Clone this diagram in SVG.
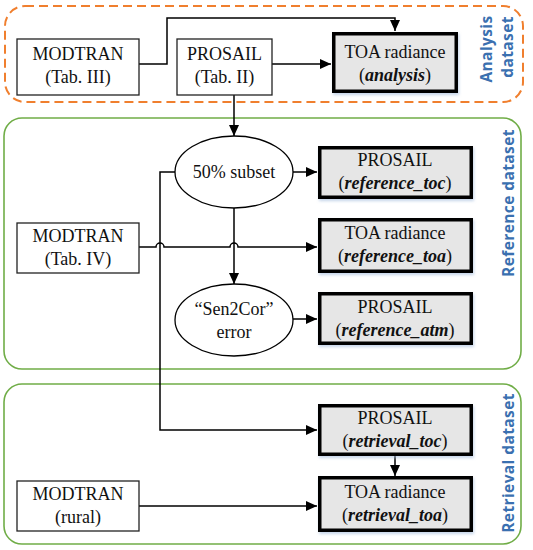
<svg xmlns="http://www.w3.org/2000/svg" width="533" height="550" viewBox="0 0 533 550">
<style>
.frame-o{fill:none;stroke:#F07F2E;stroke-width:2;stroke-dasharray:9 5}
.frame-g{fill:none;stroke:#70AD47;stroke-width:1.6}
.box{fill:#fff;stroke:#222;stroke-width:1.3}
.out{fill:#e6e6e6;stroke:#000;stroke-width:3.5;filter:url(#sh)}
.ell{fill:#fff;stroke:#000;stroke-width:1.3}
.t{font-size:18px;fill:#111;text-anchor:middle}
.i{font-style:italic;font-weight:bold}
.lab{font-weight:bold;font-size:15.5px;letter-spacing:0.4px;fill:#3A70B0;text-anchor:middle}
.c{fill:none;stroke:#000;stroke-width:1.5}
</style>
<defs>
<filter id="sh" x="-10%" y="-10%" width="125%" height="130%">
<feDropShadow dx="1" dy="2" stdDeviation="1.5" flood-color="#9fb9dc" flood-opacity="0.6"/>
</filter>
<marker id="ah" markerUnits="userSpaceOnUse" markerWidth="12" markerHeight="10" refX="11" refY="5" orient="auto">
<path d="M0,0 L11,5 L0,10 z" fill="#000"/>
</marker>
</defs>

<g id="frame-analysis" font-family="'Open Sans', 'Noto Sans', sans-serif">
<rect class="frame-o" x="5" y="6" width="518" height="96" rx="20"/>
<text class="lab" transform="translate(492,49) rotate(-90)">Analysis</text>
<text class="lab" transform="translate(513,47) rotate(-90)">dataset</text>
</g>
<g id="frame-reference" font-family="'Open Sans', 'Noto Sans', sans-serif">
<rect class="frame-g" x="4" y="118" width="517" height="251" rx="18"/>
<text class="lab" transform="translate(514,203) rotate(-90)">Reference dataset</text>
</g>
<g id="frame-retrieval" font-family="'Open Sans', 'Noto Sans', sans-serif">
<rect class="frame-g" x="4" y="384" width="517" height="160" rx="18"/>
<text class="lab" transform="translate(514,463) rotate(-90)">Retrieval dataset</text>
</g>

<g id="connectors">
<path class="c" d="M139,64 H167 V18 H395 V31" marker-end="url(#ah)"/>
<path class="c" d="M272,64 H331" marker-end="url(#ah)"/>
<path class="c" d="M234,95 V136" marker-end="url(#ah)"/>
<path class="c" d="M293,172 H317" marker-end="url(#ah)"/>
<path class="c" d="M234,208 V284" marker-end="url(#ah)"/>
<path class="c" d="M139,247 H156 A4,4 0 0 1 164,247 H230 A4,4 0 0 1 238,247 H317" marker-end="url(#ah)"/>
<path class="c" d="M293,319 H317" marker-end="url(#ah)"/>
<path class="c" d="M175,172 H160 V430 H317" marker-end="url(#ah)"/>
<path class="c" d="M395,456 V476" marker-end="url(#ah)"/>
<path class="c" d="M139,506 H317" marker-end="url(#ah)"/>
</g>

<g font-family="'Liberation Serif', 'DejaVu Serif', serif">
<g id="modtran-tab3">
<rect class="box" x="17" y="39" width="122" height="56"/>
<text class="t" x="78" y="60">MODTRAN</text>
<text class="t" x="78" y="83">(Tab. III)</text>
</g>
<g id="prosail-tab2">
<rect class="box" x="177" y="39" width="95" height="56"/>
<text class="t" x="224.5" y="60">PROSAIL</text>
<text class="t" x="224.5" y="83">(Tab. II)</text>
</g>
<g id="toa-analysis">
<rect class="out" x="333.75" y="33.75" width="122.5" height="57.5"/>
<text class="t" x="395" y="58">TOA radiance</text>
<text class="t" x="395" y="81">(<tspan class="i">analysis</tspan>)</text>
</g>

<g id="subset">
<ellipse class="ell" cx="234" cy="172" rx="59" ry="36"/>
<text class="t" x="234" y="178">50% subset</text>
</g>
<g id="ref-toc">
<rect class="out" x="319.75" y="147.75" width="151.5" height="49.5"/>
<text class="t" x="395" y="166">PROSAIL</text>
<text class="t" x="395" y="189">(<tspan class="i">reference_toc</tspan>)</text>
</g>
<g id="modtran-tab4">
<rect class="box" x="17" y="223" width="122" height="50"/>
<text class="t" x="78" y="242">MODTRAN</text>
<text class="t" x="78" y="265">(Tab. IV)</text>
</g>
<g id="ref-toa">
<rect class="out" x="319.75" y="219.75" width="151.5" height="51.5"/>
<text class="t" x="395" y="239">TOA radiance</text>
<text class="t" x="395" y="262">(<tspan class="i">reference_toa</tspan>)</text>
</g>
<g id="sen2cor">
<ellipse class="ell" cx="234" cy="320" rx="59" ry="36"/>
<text class="t" x="234" y="315">“Sen2Cor”</text>
<text class="t" x="234" y="338">error</text>
</g>
<g id="ref-atm">
<rect class="out" x="319.75" y="293.75" width="151.5" height="49.5"/>
<text class="t" x="395" y="313">PROSAIL</text>
<text class="t" x="395" y="336">(<tspan class="i">reference_atm</tspan>)</text>
</g>

<g id="ret-toc">
<rect class="out" x="319.75" y="405.75" width="151.5" height="48.5"/>
<text class="t" x="395" y="424">PROSAIL</text>
<text class="t" x="395" y="447">(<tspan class="i">retrieval_toc</tspan>)</text>
</g>
<g id="ret-toa">
<rect class="out" x="319.75" y="477.75" width="151.5" height="52.5"/>
<text class="t" x="395" y="498">TOA radiance</text>
<text class="t" x="395" y="521">(<tspan class="i">retrieval_toa</tspan>)</text>
</g>
<g id="modtran-rural">
<rect class="box" x="17" y="481" width="122" height="50"/>
<text class="t" x="78" y="500">MODTRAN</text>
<text class="t" x="78" y="523">(rural)</text>
</g>
</g>
</svg>
